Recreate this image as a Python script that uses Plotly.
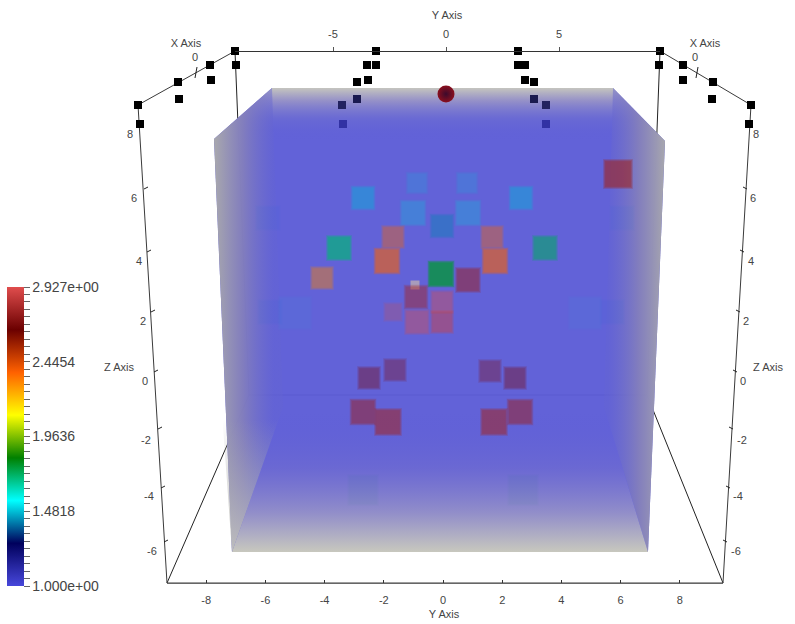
import plotly.graph_objects as go

W, H = 795, 624
FONT = "Liberation Sans"
INK = "#444444"

# ---------- colour transfer function ----------
V_MIN, V_MAX = 1.0, 2.927
COLORSCALE = [
    [0.0, "rgb(71,71,219)"], [1 / 7, "rgb(0,0,92)"], [2 / 7, "rgb(0,255,255)"],
    [3 / 7, "rgb(0,128,0)"], [4 / 7, "rgb(255,255,0)"], [5 / 7, "rgb(255,97,0)"],
    [6 / 7, "rgb(107,0,0)"], [1.0, "rgb(224,77,77)"],
]
BAR_LABELS = ["1.000e+00", "1.4818", "1.9636", "2.4454", "2.927e+00"]
BAR_STEPS = 40

# ---------- blobs seen through the volume (screen x, screen y, size, value, opacity) ----------
blob_x = [268, 622, 270, 612, 295, 585, 363, 523,
          363, 417, 467, 521, 413, 468, 442, 393, 492, 339, 545, 387, 495, 322,
          441, 468, 416, 442, 393, 417, 442, 395, 369, 490, 515, 363, 388, 494, 520, 618]
blob_y = [218, 218, 312, 312, 313, 313, 490, 490,
          198, 183, 183, 198, 213, 213, 226, 237, 237, 248, 248, 261, 261, 278,
          274, 280, 297, 302, 312, 322, 322, 370, 378, 371, 378, 412, 422, 422, 412, 174]
blob_size = [24, 24, 24, 24, 32, 32, 30, 30,
             22, 20, 20, 22, 24, 24, 22, 21, 21, 23, 23, 24, 24, 21,
             24, 23, 22, 21, 17, 23, 21, 21, 21, 21, 21, 24, 25, 25, 24, 27]
blob_value = [1.5, 1.5, 1.5, 1.5, 1.5, 1.5, 1.8, 1.8,
              1.48, 1.5, 1.5, 1.48, 1.5, 1.5, 1.42, 2.38, 2.38, 1.7, 1.72, 2.376, 2.376, 2.31,
              1.77, 2.78, 2.8, 2.927, 2.927, 2.927, 2.88, 2.7, 2.7, 2.7, 2.7, 2.78, 2.78, 2.78, 2.78, 2.78]
blob_alpha = [0.015, 0.015, 0.02, 0.02, 0.035, 0.035, 0.03, 0.03,
              0.4, 0.17, 0.17, 0.4, 0.27, 0.27, 0.38, 0.38, 0.38, 0.65, 0.55, 0.58, 0.58, 0.44,
              0.74, 0.52, 0.48, 0.42, 0.27, 0.42, 0.48, 0.34, 0.38, 0.34, 0.38, 0.52, 0.56, 0.56, 0.52, 0.64]
cap_x, cap_y = [415], [285]

# ---------- small point glyphs along the top ----------
dot_x = [235, 236, 210, 211, 178, 179, 138, 140, 376, 367, 376, 357, 368, 357, 342, 343,
         518, 518, 525, 525, 534, 534, 546, 546, 660, 659, 683, 683, 713, 712, 751, 749]
dot_y = [51, 65, 65, 80, 82, 99, 105, 124, 51, 65, 65, 82, 80, 99, 105, 124,
         51, 65, 65, 80, 82, 99, 105, 124, 51, 65, 65, 80, 82, 99, 105, 124]
dot_color = ["#000", "#000", "#000", "#000", "#000", "#000", "#000", "#000",
             "#000", "#000", "#000", "#000", "#000", "#1a1a50", "#222260", "#3232a4",
             "#000", "#000", "#000", "#000", "#000", "#1a1a50", "#222260", "#3232a4",
             "#000", "#000", "#000", "#000", "#000", "#000", "#000", "#000"]

# ---------- box outline in screen space ----------
frame_left = ([235, 138, 167, 723, 751, 660], [51, 105, 583, 583, 105, 51])
back_edges = ([235, 249, 647, 660, None, 249, 167, None, 647, 723],
              [51, 395, 395, 51, None, 395, 583, None, 395, 583])

# ---------- axis ticks and labels ----------
bottom_ticks = [-8, -6, -4, -2, 0, 2, 4, 6, 8]
bottom_labels = ["-8", "-6", "-4", "-2", "0", "2", "4", "6", "8"]
top_ticks = [-5, 0, 5]
top_labels = ["-5", "0", "5"]
left_tick_x = [142, 146, 149, 153, 156, 160, 163, 166]
left_tick_y = [124, 188, 251, 311, 371, 428, 487, 541]
right_tick_x = [748, 745, 742, 738, 735, 731, 728, 725]
z_labels = ["8", "6", "4", "2", "0", "-2", "-4", "-6"]
z_left_x = [130, 134, 139, 143, 145, 146, 149, 152]
z_right_x = [756, 753, 751, 746, 743, 742, 738, 736]
z_label_y = [135, 199, 262, 322, 382, 441, 497, 552]
title_text = ["Y Axis", "Y Axis", "X Axis", "X Axis", "Z Axis", "Z Axis", "0", "0"]
title_x = [447, 444, 186, 705, 119, 768, 195, 695]
title_y = [16, 615, 44, 44, 368, 368, 58, 58]

fig = go.Figure()


def line(xs, ys, color="#3a3a3a", width=1):
    fig.add_trace(go.Scatter(x=xs, y=ys, mode="lines", line=dict(color=color, width=width),
                             hoverinfo="skip", showlegend=False))


def panel(xs, ys, kind, start, stop, stops):
    fig.add_trace(go.Scatter(
        x=xs, y=ys, mode="lines", line=dict(width=0), fill="toself",
        fillgradient=dict(type=kind, start=start, stop=stop, colorscale=stops),
        hoverinfo="skip", showlegend=False))


# box edges, then the translucent volume above them
line(*back_edges, color="#222222")
line(*frame_left)
for i in range(8):
    line([left_tick_x[i] - 2, left_tick_x[i] + 2], [left_tick_y[i] + 1, left_tick_y[i] - 1], "#222222")
    line([right_tick_x[i] - 2, right_tick_x[i] + 2], [left_tick_y[i] - 1, left_tick_y[i] + 1], "#222222")
line([197, 195], [67, 78], "#222222")
line([698, 696], [67, 78], "#222222")

fig.add_trace(go.Scatter(
    x=[272, 613, 665, 648, 232, 214, 272], y=[88, 88, 141, 552, 552, 139, 88],
    mode="lines", line=dict(width=0), fill="toself", fillcolor="rgba(92,92,214,0.96)",
    hoverinfo="skip", showlegend=False))

panel([272, 613, 665, 214, 272], [88, 88, 141, 139, 88], "vertical", 88, 140,
      [[0, "rgba(200,200,190,0.97)"], [0.25, "rgba(155,150,198,0.88)"], [0.6, "rgba(112,112,208,0.5)"],
       [1, "rgba(92,92,214,0)"]])
panel([214, 272, 283, 232, 214], [139, 88, 407, 552, 139], "horizontal", 212, 274,
      [[0, "rgba(172,172,172,1)"], [0.5, "rgba(135,130,185,0.85)"], [1, "rgba(100,100,210,0.45)"]])
panel([665, 613, 604, 648, 665], [141, 88, 407, 552, 141], "horizontal", 608, 668,
      [[0, "rgba(100,100,210,0.45)"], [0.5, "rgba(135,130,185,0.85)"], [1, "rgba(172,172,172,1)"]])
panel([283, 604, 648, 232, 283], [407, 407, 552, 552, 407], "vertical", 412, 552,
      [[0, "rgba(92,92,214,0)"], [0.4, "rgba(112,108,208,0.65)"], [0.72, "rgba(150,146,200,0.92)"],
       [1, "rgba(200,200,190,1)"]])
panel([214, 283, 232, 214], [300, 407, 552, 300], "vertical", 420, 552,
      [[0, "rgba(170,170,170,0)"], [1, "rgba(195,195,190,0.9)"]])

# pale cap behind the central stack
fig.add_trace(go.Scatter(x=cap_x, y=cap_y, mode="markers",
                         marker=dict(symbol="square", size=9, color="#a89cbc", line=dict(width=0)),
                         hoverinfo="skip", showlegend=False))

# soft-edged blobs: stacked squares whose opacities compound to the target
LAYER_GROW = [3, 2, 1, 0, -1, -2]
tick_vals = [V_MIN + (V_MAX - V_MIN) * k / BAR_STEPS for k in range(BAR_STEPS + 1)]
tick_text = [""] * (BAR_STEPS + 1)
for k in range(5):
    tick_text[k * BAR_STEPS // 4] = BAR_LABELS[k]

for n, grow in enumerate(LAYER_GROW):
    marker = dict(
        symbol="square",
        size=[s + grow for s in blob_size],
        color=blob_value, cmin=V_MIN, cmax=V_MAX, colorscale=COLORSCALE,
        opacity=[1 - (1 - a) ** (1 / len(LAYER_GROW)) for a in blob_alpha],
        line=dict(width=0),
    )
    if n == 0:
        marker["showscale"] = True
        marker["colorbar"] = dict(
            x=7 / W, xanchor="left", y=(H - 586) / H, yanchor="bottom",
            len=299, lenmode="pixels", thickness=17, thicknessmode="pixels",
            outlinewidth=0, borderwidth=0, xpad=0, ypad=0,
            tickmode="array", tickvals=tick_vals, ticktext=tick_text,
            ticks="outside", ticklen=6, tickwidth=1, tickcolor="#666666",
            tickfont=dict(family=FONT, size=14, color=INK),
        )
    fig.add_trace(go.Scatter(x=blob_x, y=blob_y, mode="markers", marker=marker,
                             hoverinfo="skip", showlegend=False))

# point glyphs and the sphere
fig.add_trace(go.Scatter(x=dot_x, y=dot_y, mode="markers",
                         marker=dict(symbol="square", size=8, color=dot_color, line=dict(width=0)),
                         hoverinfo="skip", showlegend=False))
fig.add_trace(go.Scatter(x=[446], y=[94], mode="markers",
                         marker=dict(symbol="circle", size=17, color="#8a0f1e", line=dict(width=0),
                                     gradient=dict(type="radial", color="#3c0a2c")),
                         hoverinfo="skip", showlegend=False))

# texts
fig.add_trace(go.Scatter(
    x=z_left_x + z_right_x + title_x,
    y=z_label_y + z_label_y + title_y,
    text=z_labels + z_labels + title_text,
    mode="text", textposition="middle center",
    textfont=dict(family=FONT, size=11, color=INK),
    hoverinfo="skip", showlegend=False))

# real ruled axes for the straight top and bottom edges
fig.add_trace(go.Scatter(x=[None], y=[None], xaxis="x2", yaxis="y", showlegend=False))
fig.add_trace(go.Scatter(x=[None], y=[None], xaxis="x3", yaxis="y", showlegend=False))

fig.update_layout(
    width=W, height=H, autosize=False,
    margin=dict(l=0, r=0, t=0, b=0, pad=0),
    paper_bgcolor="white", plot_bgcolor="rgba(0,0,0,0)",
    showlegend=False,
    xaxis=dict(range=[0, W], visible=False, domain=[0, 1], fixedrange=True),
    yaxis=dict(range=[H, 0], visible=False, domain=[0, 1], fixedrange=True),
    xaxis2=dict(
        domain=[167 / W, 723 / W], range=[(167 - 443) / 29.6, (723 - 443) / 29.6],
        anchor="free", position=(H - 583) / H, side="bottom",
        showgrid=False, zeroline=False, showline=True, linecolor="#666666", linewidth=1,
        tickmode="array", tickvals=bottom_ticks, ticktext=bottom_labels,
        ticks="inside", ticklen=3, tickcolor="#333333",
        ticklabelstandoff=7, tickfont=dict(family=FONT, size=11, color=INK), fixedrange=True,
    ),
    xaxis3=dict(
        domain=[235 / W, 660 / W], range=[(235 - 446) / 22.6, (660 - 446) / 22.6],
        anchor="free", position=(H - 51) / H, side="top",
        showgrid=False, zeroline=False, showline=True, linecolor="#333333", linewidth=1,
        tickmode="array", tickvals=top_ticks, ticktext=top_labels,
        ticks="outside", ticklen=4, tickcolor="#555555",
        ticklabelstandoff=5, tickfont=dict(family=FONT, size=11, color=INK), fixedrange=True,
    ),
)

fig.write_html("out.html", config=dict(displayModeBar=False),
               post_script="document.body.style.margin='0';document.body.style.overflow='hidden';")
